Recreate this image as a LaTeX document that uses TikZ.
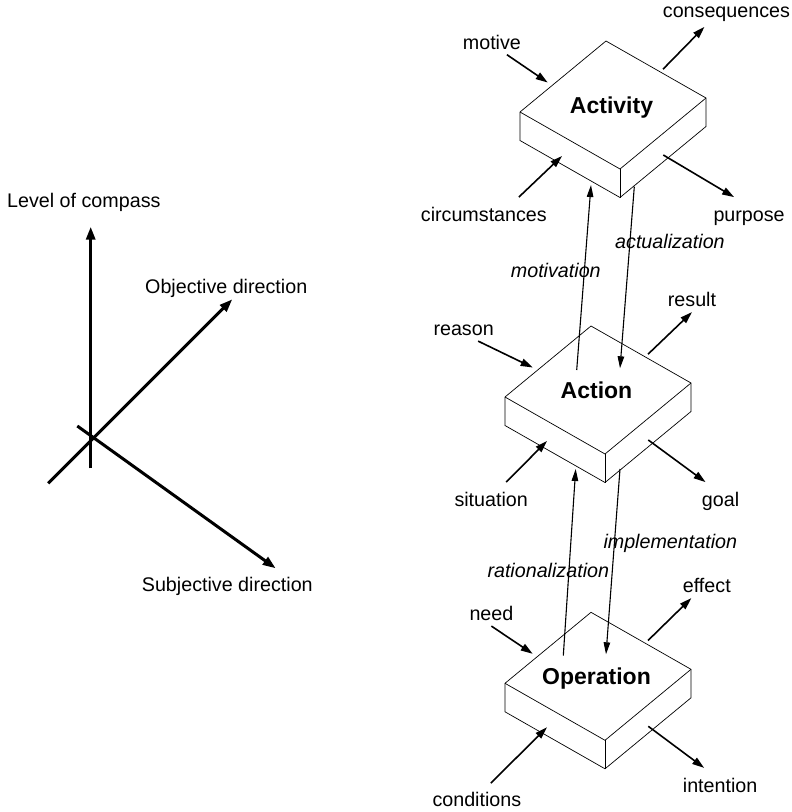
\documentclass[tikz,border=0pt]{standalone}
\usepackage{fontspec}
\setmainfont{Liberation Sans}
\usetikzlibrary{arrows.meta}

\tikzset{
  lbl/.style={font=\fontsize{19.7}{22}\selectfont, inner sep=1pt, text height=14.4pt, text depth=4.2pt, anchor=base west},
  verb/.style={lbl, font=\fontsize{19.7}{22}\selectfont\itshape},
  slab/.style={draw, line width=0.7pt, fill=white},
  boxlbl/.style={font=\fontsize{23}{26}\selectfont\bfseries, inner sep=0pt, anchor=base},
  axis/.style={line width=3pt, -{Triangle[length=13pt,width=9pt]}},
  arr/.style={line width=1.6pt, -{Triangle[length=12pt,width=7.5pt]}},
  varr/.style={line width=1.1pt, -{Triangle[length=12pt,width=6.5pt]}},
}

\begin{document}
\begin{tikzpicture}[x=1pt, y=-1pt]
  \useasboundingbox (0,0) rectangle (792,812);

  % Draw the three directions
  \coordinate (vbot) at (90.7,468.3);
  \coordinate (vtop) at (90.7,226.7);
  \coordinate (obot) at (48.3,483.3);
  \coordinate (otop) at (232.3,299.3);
  \coordinate (sbot) at (77.3,426);
  \coordinate (stip) at (275.7,568.3);
  \draw[axis] (vbot) -- (vtop);
  \draw[axis] (obot) -- (otop);
  \draw[axis] (sbot) -- (stip);
  \node[lbl] (compass) at (6,207) {Level of compass};
  \node[lbl] (objective) at (144,293.3) {Objective direction};
  \node[lbl] (subjective) at (140.7,591.7) {Subjective direction};

  % Draw the three levels
  \foreach \b/\x/\y/\t in {act/606/41/Activity, acn/591/326/Action, opr/591/612.3/Operation}{
    \coordinate (\b) at (\x,\y);
    \draw[slab] (\b) -- ++(100,57) -- ++(0,28.5) -- ++(-86,71) -- ++(-100,-57) -- ++(0,-28.5) -- cycle;
    \draw[slab, fill=none] (\b) ++(-86,71) -- ++(100,57) -- ++(86,-71);
    \draw[slab, fill=none] (\b) ++(14,128) -- ++(0,28.5);
    \path (\b) ++(5.5,72.5) node[boxlbl] (\b-name) {\t};
    \path (\b) ++(-58.3,41.5) coordinate (\b-in)
          (\b) ++(57,28.2) coordinate (\b-out)
          (\b) ++(-44,115) coordinate (\b-low)
          (\b) ++(57.3,114) coordinate (\b-res);
  }

  % ports of the links between levels
  \coordinate (act-bl) at (591,185);
  \coordinate (act-br) at (634.3,186.7);
  \coordinate (acn-tl) at (576.7,370);
  \coordinate (acn-tr) at (620,368.3);
  \coordinate (acn-bl) at (575.7,469);
  \coordinate (acn-br) at (620,469);
  \coordinate (opr-tl) at (563.3,655.7);
  \coordinate (opr-tr) at (606,654.3);

  % Draw the labels
  \node[lbl] (motive) at (461.7,49.3) {motive};
  \node[lbl] (consequences) at (661.7,17.5) {consequences};
  \node[lbl] (circumstances) at (419.7,221.7) {circumstances};
  \node[lbl] (purpose) at (712.3,221.7) {purpose};
  \node[lbl] (reason) at (432.3,335.7) {reason};
  \node[lbl] (result) at (666.7,306.7) {result};
  \node[lbl] (situation) at (453.3,506.7) {situation};
  \node[lbl] (goal) at (700.7,506.7) {goal};
  \node[lbl] (need) at (468.3,620.7) {need};
  \node[lbl] (effect) at (681.7,592.7) {effect};
  \node[lbl] (conditions) at (431.3,806.7) {conditions};
  \node[lbl] (intention) at (681.7,792) {intention};
  \node[verb] (motivation) at (509.7,277.3) {motivation};
  \node[verb] (actualization) at (614,248.3) {actualization};
  \node[verb] (implementation) at (602.3,548.3) {implementation};
  \node[verb] (rationalization) at (486.3,577.3) {rationalization};

  % Draw the arrows
  \draw[arr] ([xshift=15pt]motive.south) -- (act-in);
  \draw[arr] (act-out) -- ([xshift=-22pt,yshift=-4pt]consequences.south);
  \draw[arr] ([xshift=35pt,yshift=9pt]circumstances.north) -- (act-low);
  \draw[arr] (act-res) -- ([xshift=-15pt,yshift=9pt]purpose.north);
  \draw[arr] ([xshift=14.5pt]reason.south) -- (acn-in);
  \draw[arr] (acn-out) -- (result.south);
  \draw[arr] ([xshift=15pt,yshift=9pt]situation.north) -- (acn-low);
  \draw[arr] (acn-res) -- ([xshift=-15pt,yshift=9pt]goal.north);
  \draw[arr] (need.south) -- (opr-in);
  \draw[arr] (opr-out) -- ([xshift=-15.5pt]effect.south);
  \draw[arr] ([xshift=14pt,yshift=8pt]conditions.north) -- (opr-low);
  \draw[arr] (opr-res) -- ([xshift=-16pt,yshift=8.5pt]intention.north);

  \draw[varr] (acn-tl) -- (act-bl);
  \draw[varr] (act-br) -- (acn-tr);
  \draw[varr] (opr-tl) -- (acn-bl);
  \draw[varr] (acn-br) -- (opr-tr);
\end{tikzpicture}
\end{document}
